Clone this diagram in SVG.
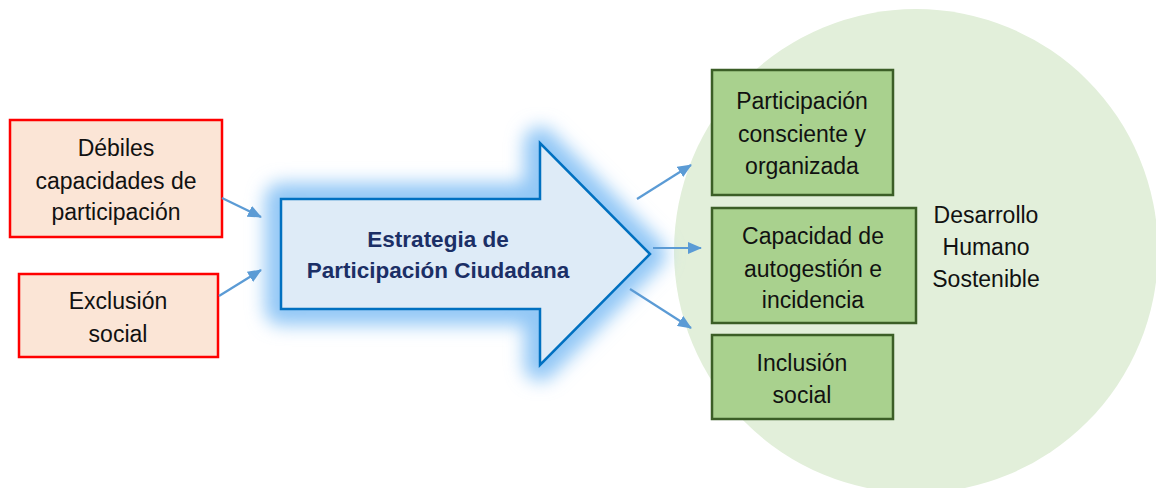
<svg xmlns="http://www.w3.org/2000/svg" width="1156" height="488" viewBox="0 0 1156 488">
<style>
text{font-family:"Liberation Sans",Arial,sans-serif;font-size:23px;fill:#111;text-anchor:middle}
.red{fill:#FBE5D6;stroke:#FF0000;stroke-width:2.5}
.grn{fill:#A9D18E;stroke:#3B5E26;stroke-width:2.5}
.conn{stroke:#5B9BD5;stroke-width:2.2;fill:none;marker-end:url(#ah)}
.bold{font-weight:bold;fill:#1B2F66;font-size:22.5px}
</style>
<defs>
<marker id="ah" markerWidth="14" markerHeight="12" refX="13" refY="6" orient="auto" markerUnits="userSpaceOnUse">
<path d="M0,0 L14,6 L0,12 Z" fill="#5B9BD5"/>
</marker>
<filter id="glow" x="-30%" y="-40%" width="160%" height="180%">
<feGaussianBlur stdDeviation="9"/>
</filter>
</defs>
<rect width="1156" height="488" fill="#fff"/>
<g id="circle">
<circle cx="916" cy="251" r="242" fill="#E2EFDA"/>
</g>
<g id="n_debiles">
<rect class="red" x="10" y="120" width="212" height="117"/>
<text x="116" y="156">Débiles</text>
<text x="116" y="189">capacidades de</text>
<text x="116" y="220">participación</text>
</g>
<g id="n_exclusion">
<rect class="red" x="19" y="274" width="199" height="83"/>
<text x="118" y="309">Exclusión</text>
<text x="118" y="342">social</text>
</g>
<g id="n_estrategia">
<path d="M281,199 L540,199 L540,143 L650,254 L540,365 L540,309 L281,309 Z" fill="none" stroke="#92C7F6" stroke-width="32" stroke-linejoin="round" filter="url(#glow)"/>
<path d="M281,199 L540,199 L540,143 L650,254 L540,365 L540,309 L281,309 Z" fill="#DEEBF7" stroke="#0070C0" stroke-width="2.5"/>
<text class="bold" x="438" y="247">Estrategia de</text>
<text class="bold" x="438" y="278">Participación Ciudadana</text>
</g>
<g id="n_participacion">
<rect class="grn" x="712" y="70" width="181" height="125"/>
<text x="802" y="109">Participación</text>
<text x="802" y="142">consciente y</text>
<text x="802" y="174">organizada</text>
</g>
<g id="n_capacidad">
<rect class="grn" x="712" y="208" width="204" height="115"/>
<text x="813" y="244">Capacidad de</text>
<text x="813" y="277">autogestión e</text>
<text x="813" y="308">incidencia</text>
</g>
<g id="n_inclusion">
<rect class="grn" x="712" y="335" width="181" height="84"/>
<text x="802" y="371">Inclusión</text>
<text x="802" y="403">social</text>
</g>
<g id="n_desarrollo">
<text x="986" y="223">Desarrollo</text>
<text x="986" y="255">Humano</text>
<text x="986" y="287">Sostenible</text>
</g>
<g id="connectors">
<line class="conn" x1="222" y1="198" x2="261" y2="217"/>
<line class="conn" x1="219" y1="296" x2="261" y2="270"/>
<line class="conn" x1="637" y1="199" x2="691" y2="165"/>
<line class="conn" x1="653" y1="248" x2="701" y2="248"/>
<line class="conn" x1="630" y1="289" x2="691" y2="328"/>
</g>
</svg>
